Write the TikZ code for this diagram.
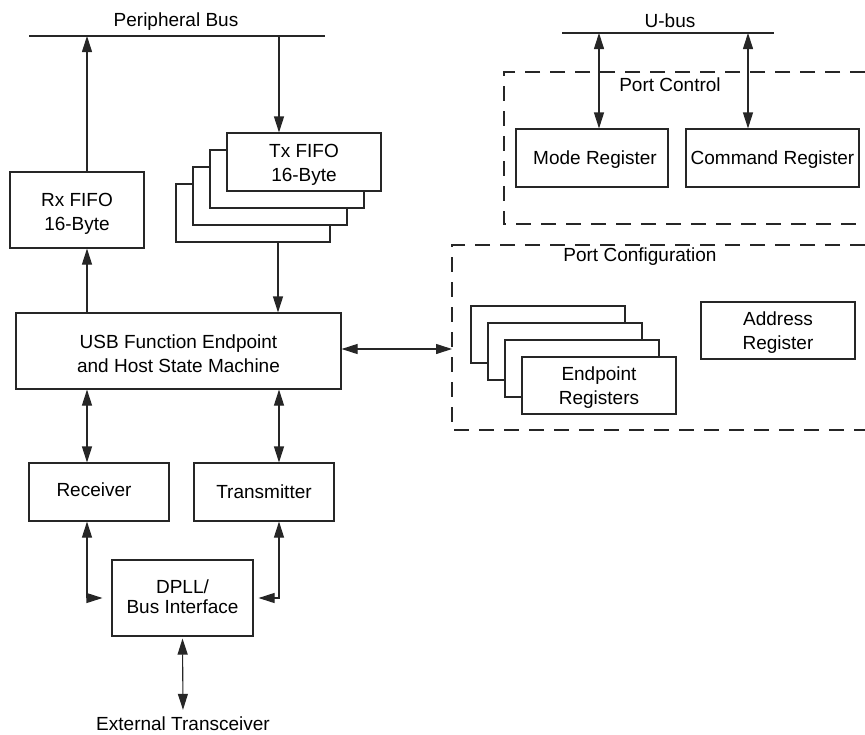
\documentclass[tikz,border=0pt]{standalone}
\usepackage{fontspec}
\setmainfont{Liberation Sans}
\usetikzlibrary{arrows.meta}
\tikzset{
  box/.style={draw=black!85, line width=1.1pt, fill=white, rectangle, inner sep=0pt, align=center,
    font=\fontsize{19}{24}\selectfont},
  lbl/.style={inner sep=0pt, align=center, font=\fontsize{19}{24}\selectfont},
  arr/.style={draw=black!85, line width=1.1pt, -{Triangle[length=16pt,width=10pt]}},
  darr/.style={draw=black!85, line width=1.1pt, {Triangle[length=16pt,width=10pt]}-{Triangle[length=16pt,width=10pt]}},
  busline/.style={draw=black!85, line width=1.1pt},
  dbox/.style={draw=black!85, line width=1.1pt, dash pattern=on 15pt off 10pt},
}
\begin{document}
\begin{tikzpicture}[x=1pt,y=-1pt]
\useasboundingbox (0,0) rectangle (865,734);

% Peripheral bus
\node[lbl] (pblabel) at (176,22) {Peripheral Bus};
\coordinate (pbL) at (29,36);
\coordinate (pbR) at (325,36);
\draw[busline] (pbL) -- (pbR);
\coordinate (pb1) at (87,36);
\coordinate (pb2) at (279,36);
\coordinate (tb) at (278,36);

% Rx FIFO
\node[box, minimum width=134pt, minimum height=76pt] (rx) at (77,210) {};
\node[lbl] (rxt) at ([yshift=-4pt]rx.center) {Rx FIFO\\16-Byte};

% Tx FIFO stack
\node[box, minimum width=154pt, minimum height=58pt] (tx3) at (253,213) {};
\node[box, minimum width=154pt, minimum height=58pt] (tx2) at (270,196) {};
\node[box, minimum width=154pt, minimum height=58pt] (tx1) at (287,179) {};
\node[box, minimum width=154pt, minimum height=58pt] (tx0) at (304,162) {};
\node[lbl] (txt) at ([yshift=-3pt]tx0.center) {Tx FIFO\\16-Byte};

% USB state machine
\node[box, minimum width=325pt, minimum height=76pt] (usb) at (178.5,351) {};
\node[lbl] (usbt) at ([yshift=-3pt]usb.center) {USB Function Endpoint\\and Host State Machine};

% Receiver / Transmitter
\node[box, minimum width=140pt, minimum height=58pt] (recv) at (99,492) {};
\node[lbl] (recvt) at ([xshift=-5pt,yshift=2pt]recv.center) {Receiver};
\node[box, minimum width=140pt, minimum height=58pt] (trans) at (264,492) {Transmitter};

% DPLL
\node[box, minimum width=141pt, minimum height=76pt] (dpll) at (182.5,598) {};
\node[lbl, font=\fontsize{19}{20}\selectfont] (dpllt) at ([yshift=1pt]dpll.center) {DPLL/\\Bus Interface};

% External transceiver
\node[lbl] (ext) at (183,724) {External Transceiver};

% U-bus
\node[lbl] (ublabel) at (670,21) {U-bus};
\coordinate (ubL) at (562,33);
\coordinate (ubR) at (774,33);
\draw[busline] (ubL) -- (ubR);
\coordinate (ub1) at (599,33);
\coordinate (ub2) at (748,33);

% Port control
\draw[dbox] (865,72) -- (504,72) -- (504,224) -- (865,224);
\node[lbl] (pclabel) at (670,85) {Port Control};
\node[box, minimum width=152pt, minimum height=58pt] (mode) at (592,158) {};
\node[lbl] (modet) at ([xshift=3pt,yshift=-2pt]mode.center) {Mode Register};
\node[box, minimum width=173pt, minimum height=58pt] (cmd) at (772.5,158) {};
\node[lbl] (cmdt) at ([yshift=-2pt]cmd.center) {Command Register};

% Port configuration
\draw[dbox] (865,245) -- (452,245) -- (452,430) -- (865,430);
\node[lbl] (pcfglabel) at (640,257) {Port Configuration};
\node[box, minimum width=154pt, minimum height=57pt] (ep3) at (548,334.5) {};
\node[box, minimum width=154pt, minimum height=57pt] (ep2) at (565,351.5) {};
\node[box, minimum width=154pt, minimum height=57pt] (ep1) at (582,368.5) {};
\node[box, minimum width=154pt, minimum height=57pt] (ep0) at (599,385.5) {};
\node[lbl] (ept) at ([yshift=-2pt]ep0.center) {Endpoint\\Registers};
\node[box, minimum width=154pt, minimum height=57pt] (addr) at (778,330.5) {};
\node[lbl] (addrt) at ([yshift=-2pt]addr.center) {Address\\Register};
\coordinate (pcfgW) at (452,349);

% Connectors
\draw[arr] (rx.north -| pb1) -- (pb1);
\draw[arr] (usb.north -| pb1) -- (rx.south -| pb1);
\draw[arr] (pb2) -- (tx0.north -| pb2);
\draw[arr] (tx3.south -| tb) -- (usb.north -| tb);
\draw[darr] (usb.south -| pb1) -- (recv.north -| pb1);
\draw[darr] (usb.south -| pb2) -- (trans.north -| pb2);
\draw[darr] (recv.south -| pb1) |- ([xshift=-9pt]dpll.west);
\draw[darr] (trans.south -| pb2) |- ([xshift=5pt]dpll.east);
\draw[darr] ([yshift=-2pt]dpll.south) -- ([yshift=7pt]ext.north);
\draw[darr] (usb.east |- pcfgW) -- (pcfgW);
\draw[darr] (ub1) -- (mode.north -| ub1);
\draw[darr] (ub2) -- (cmd.north -| ub2);
\end{tikzpicture}
\end{document}
